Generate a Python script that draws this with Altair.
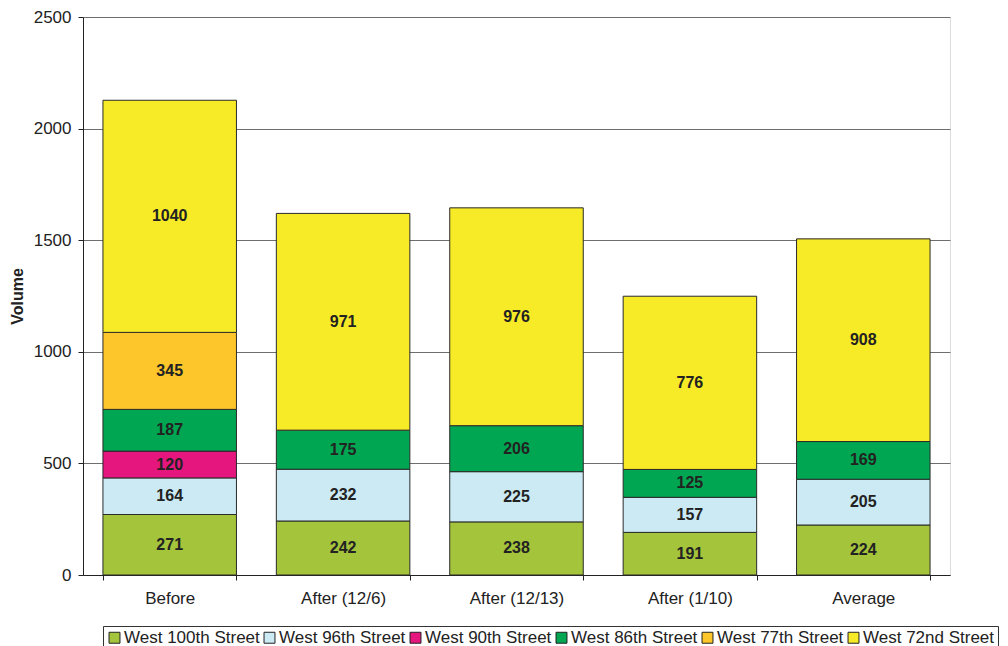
import altair as alt
import pandas as pd

categories = ["Before", "After (12/6)", "After (12/13)", "After (1/10)", "Average"]
streets = ["West 100th Street", "West 96th Street", "West 90th Street",
           "West 86th Street", "West 77th Street", "West 72nd Street"]
colors = ["#A4C43C", "#CBEAF4", "#E5177F", "#00A651", "#FDC62A", "#F7EA27"]

# values per street, per category (None = not present)
w100 = [271, 242, 238, 191, 224]
w96 = [164, 232, 225, 157, 205]
w90 = [120, None, None, None, None]
w86 = [187, 175, 206, 125, 169]
w77 = [345, None, None, None, None]
w72 = [1040, 971, 976, 776, 908]

series = [w100, w96, w90, w86, w77, w72]
rows = []
for si, (name, vals) in enumerate(zip(streets, series)):
    for ci, v in enumerate(vals):
        if v is not None:
            rows.append({"cat": categories[ci], "street": name, "value": v, "order": si})
df = pd.DataFrame(rows)

FONT = "Liberation Sans"
yscale = alt.Scale(domain=[0, 2500], nice=False, zero=True)

base = alt.Chart(df).transform_stack(
    stack="value", groupby=["cat"], as_=["y0", "y1"],
    sort=[alt.SortField("order", order="ascending")]
).transform_calculate(mid="(datum.y0 + datum.y1) / 2")

xenc = alt.X("cat:N", sort=categories, title=None,
             scale=alt.Scale(paddingInner=0.23, paddingOuter=0.115),
             axis=alt.Axis(labelAngle=0, tickBand="extent", tickSize=5,
                           labelFontSize=17, labelPadding=10, labelColor="#222",
                           domainColor="#222", tickColor="#222"))

bars = base.mark_bar(stroke="#2a2a2a", strokeWidth=1).encode(
    x=xenc,
    y=alt.Y("y0:Q", scale=yscale, title="Volume",
            axis=alt.Axis(values=[0, 500, 1000, 1500, 2000, 2500], format="d", tickSize=5,
                          labelFontSize=17, labelPadding=7, labelColor="#222",
                          titleFontSize=16, titleFontWeight="bold", titleColor="#222",
                          titlePadding=8, grid=True, gridColor="#6e6e6e",
                          domainColor="#222", tickColor="#222")),
    y2="y1:Q",
    fill=alt.Fill("street:N", scale=alt.Scale(domain=streets, range=colors),
                  legend=alt.Legend(title=None, orient="none", legendX=20, legendY=609,
                                    direction="horizontal", columns=6,
                                    symbolType="square", symbolSize=120,
                                    symbolStrokeColor="#222", symbolStrokeWidth=1,
                                    labelFontSize=17, labelColor="#222", labelOffset=1,
                                    columnPadding=1, strokeColor="#333", padding=3)),
)

labels = base.mark_text(fontWeight="bold", fontSize=16, color="#222", font=FONT).encode(
    x=alt.X("cat:N", sort=categories),
    y=alt.Y("mid:Q", scale=yscale),
    text=alt.Text("value:Q"),
)

chart = alt.layer(bars, labels).properties(
    width=867, height=558,
    autosize=alt.AutoSizeParams(type="none"),
    padding={"left": 75, "top": 9, "right": 50, "bottom": 71},
    background="white",
).configure_view(fill="#C0C3CB", stroke=None).configure(font=FONT)

chart.save("out.html", embed_options={"renderer": "svg", "actions": False})
